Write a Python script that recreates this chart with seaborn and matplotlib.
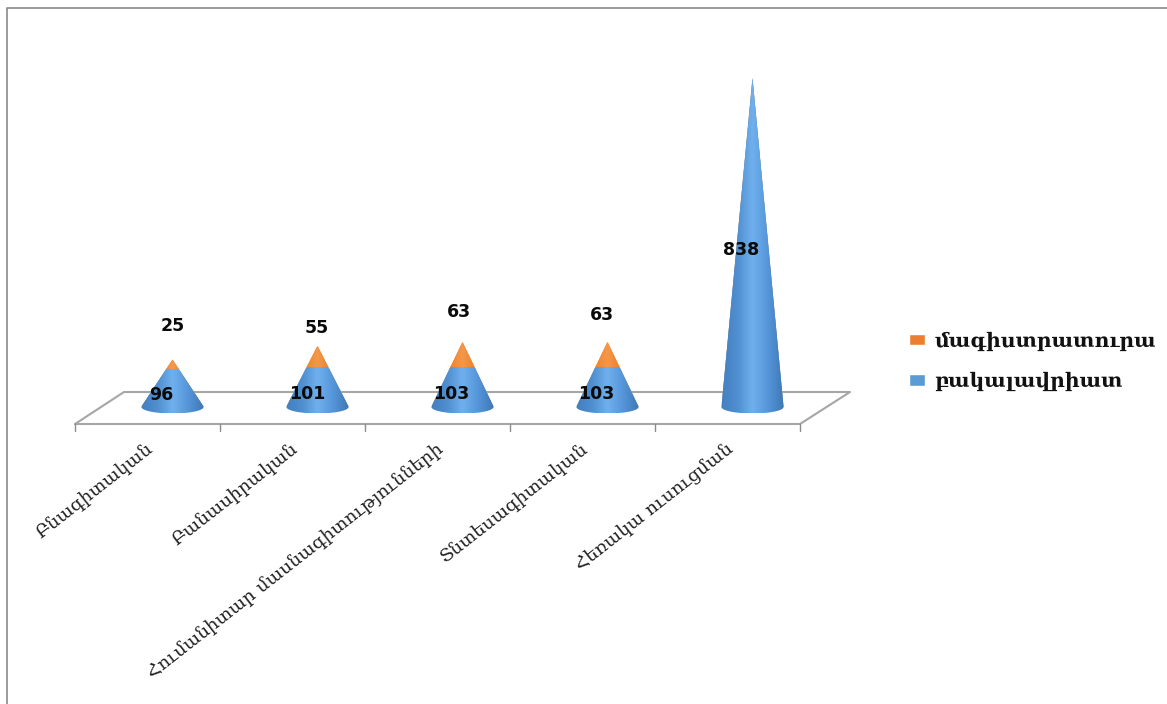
# bibliotecas
import numpy as np
import seaborn as sns
import matplotlib.pyplot as plt
from matplotlib.path import Path
from matplotlib.patches import PathPatch
from matplotlib.transforms import Affine2D

# dados
categories = ['Բնագիտական', 'Բանասիրական', 'Հումանիտար մասնագիտությունների', 'Տնտեսագիտական', 'Հեռակա ուսուցման']
bachelor = np.array([96, 101, 103, 103, 838])
master = np.array([25, 55, 63, 63, 0])
bachelor_name = 'բակալավրիատ'
master_name = 'մագիստրատուրա'

# onde cada rotulo fica (altura em unidades do eixo, deslocamento em px)
bachelor_label_y = [30, 33, 33, 33, 400]
master_label_y = [206, 201, 242, 234]
bachelor_label_dx = [-11, -10, -11, -11, -11]
master_label_dx = [0, -1, -4, -6]

sns.set_theme(style='white')
plt.rcParams['font.family'] = ['DejaVu Serif', 'DejaVu Sans']

fig = plt.figure(figsize=(11.67, 7.04), dpi=100)
ax = fig.add_axes([100 / 1167, (704 - 407) / 704, 725 / 1167, 329 / 704])

# barras empilhadas: laranja = total, azul por cima
sns.barplot(x=categories, y=bachelor + master, color='#ed7d31', width=0.428, saturation=1, ax=ax, label=master_name)
sns.barplot(x=categories, y=bachelor, color='#5b9bd5', width=0.428, saturation=1, ax=ax, label=bachelor_name)
ax.set_xlim(-0.5, 4.5)
ax.set_ylim(0, 838)
sns.despine(ax=ax, left=True, bottom=True)
ax.set_yticks([])

# cada barra vira um cone: mesma largura/altura da barra, com gradiente
blue_cmap = sns.blend_palette(['#4280bf', '#4f8ecf', '#70b0ee', '#5596da', '#3f78b6'], as_cmap=True)
orange_cmap = sns.blend_palette(['#d8741f', '#ea8029', '#f5984a', '#e57c28', '#d06c1c'], as_cmap=True)
ramp = np.linspace(0, 1, 64)[None, :]
ry = 16.5  # altura da elipse da base, em unidades do eixo

for top_bar, low_bar in zip(ax.containers[0], ax.containers[1]):
    x0, w = top_bar.get_x(), top_bar.get_width()
    cx = x0 + w / 2
    top = top_bar.get_height()
    split = low_bar.get_height()
    # os lados tocam a elipse na tangente, para a base nao parecer um disco
    start = np.arcsin(ry / top)
    t = np.linspace(-start, np.pi + start, 48)
    xs = np.r_[cx, cx + w / 2 * np.cos(t)]
    ys = np.r_[top, -ry * np.sin(t)]
    cone = PathPatch(Path(np.c_[xs, ys]), transform=ax.transData, facecolor='none', edgecolor='none')
    ax.add_patch(cone)
    top_bar.set_clip_path(cone)
    low_bar.set_clip_path(cone)
    low = ax.imshow(ramp, cmap=blue_cmap, extent=[x0, x0 + w, -ry, split], aspect='auto', zorder=3)
    low.set_clip_path(cone)
    low.set_clip_box(fig.bbox)
    if top > split:
        up = ax.imshow(ramp, cmap=orange_cmap, extent=[x0, x0 + w, split, top], aspect='auto', zorder=3)
        up.set_clip_path(cone)
        up.set_clip_box(fig.bbox)
ax.set_xlim(-0.5, 4.5)
ax.set_ylim(0, 838)

# chao em perspectiva e marcas do eixo
floor_x = np.array([75, 800, 850, 124, 75])
floor_y = np.array([424, 424, 392, 392, 424])
ax.plot((floor_x - 172.5) / 145, (407 - floor_y) / 0.3926, color='#a6a6a6', lw=1.5, clip_on=False, zorder=1)
for i in range(6):
    tx = (75 + 145 * i - 172.5) / 145
    ax.plot([tx, tx], [(407 - 424) / 0.3926, (407 - 431) / 0.3926], color='#8c8c8c', lw=1, clip_on=False, zorder=1)

# rotulos de valores
for i, v in enumerate(bachelor):
    ax.text(i + bachelor_label_dx[i] / 145, bachelor_label_y[i], str(v), ha='center', va='center',
            fontsize=12.5, fontweight='bold', family='DejaVu Sans', color='#0a0a0a', zorder=5, clip_on=False)
for i, v in enumerate(master[:4]):
    ax.text(i + master_label_dx[i] / 145, master_label_y[i], str(v), ha='center', va='center',
            fontsize=12.5, fontweight='bold', family='DejaVu Sans', color='#0a0a0a', zorder=5, clip_on=False)

# nomes das categorias
ax.tick_params(axis='x', length=0)
ax.set_xticks(range(5), categories, rotation=38, ha='right', va='top', rotation_mode='anchor', fontsize=13.2, color='#222222')
for lab in ax.get_xticklabels():
    lab.set_transform(lab.get_transform() + Affine2D().translate(-27, -28))

# legenda
handles, labels = ax.get_legend_handles_labels()
leg = ax.legend(handles, labels, loc='center left', bbox_to_anchor=(909 / 1167, (704 - 361) / 704),
                bbox_transform=fig.transFigure, frameon=False, fontsize=14.7, labelspacing=0.98,
                handlelength=0.8, handleheight=0.5, handletextpad=0.45, borderpad=0, borderaxespad=0)
for txt in leg.get_texts():
    txt.set_fontweight('bold')
    txt.set_color('#111111')

# moldura cinza (topo e esquerda)
fig.add_artist(plt.Line2D([7 / 1167, 7 / 1167, 1], [0, 1 - 8 / 704, 1 - 8 / 704], color='#8a8a8a', lw=1.2))

fig.savefig('out.png', dpi=100)
